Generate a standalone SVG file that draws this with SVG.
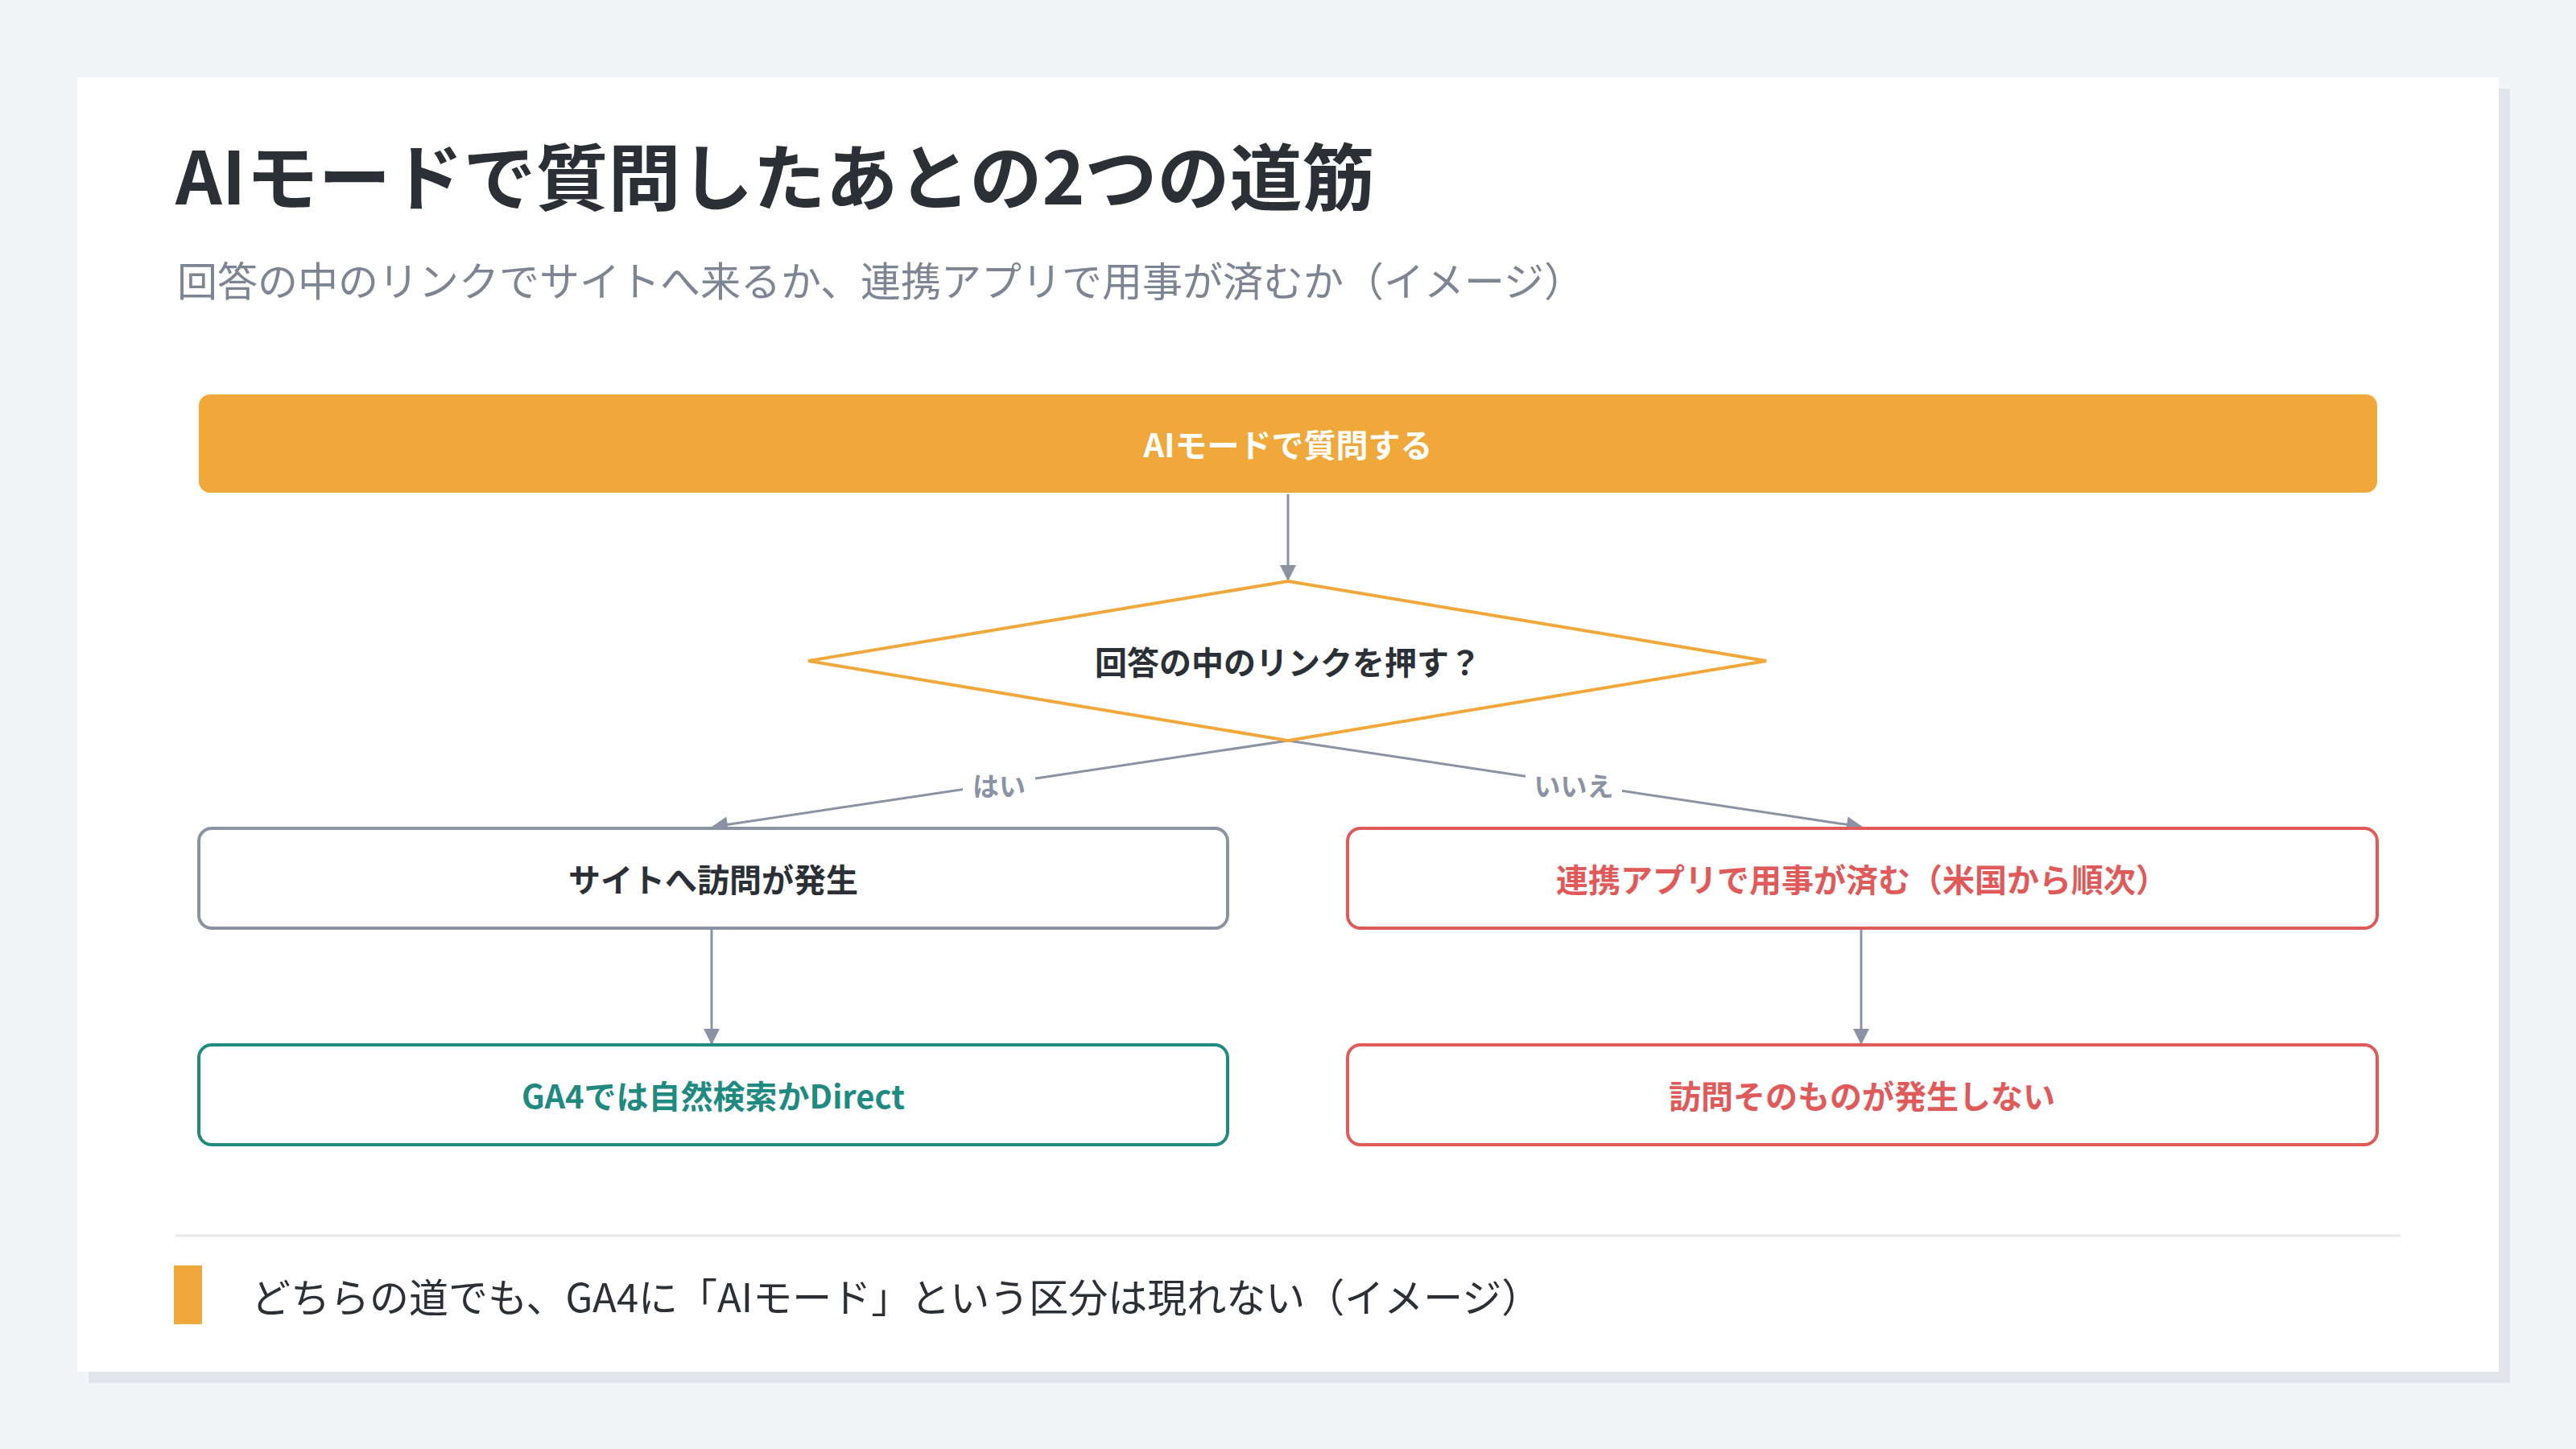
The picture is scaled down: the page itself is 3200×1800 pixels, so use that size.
<svg xmlns="http://www.w3.org/2000/svg" width="3200" height="1800" viewBox="0 0 3200 1800">
<defs>
<marker id="ah" viewBox="0 0 10 10" refX="9" refY="5" markerWidth="24" markerHeight="20" markerUnits="userSpaceOnUse" orient="auto"><path d="M0,0 L10,5 L0,10 z" fill="#8A93A3"/></marker>
<style>
text{font-family:"Noto Sans CJK JP","Noto Sans",sans-serif}
.lbl{font-size:40px;font-weight:700;text-anchor:middle;dominant-baseline:central}
.box{fill:#fff;stroke-width:4}
.con{stroke:#8A93A3;stroke-width:3;fill:none;marker-end:url(#ah)}
.el{font-size:33px;font-weight:700;fill:#8A93A3;text-anchor:middle;dominant-baseline:central}
</style>
</defs>
<rect width="3200" height="1800" fill="#F3F4F8"/>
<rect x="110" y="110" width="3008" height="1608" fill="#E2E4EA"/>
<rect x="96" y="96" width="3008" height="1608" fill="#fff"/>
<text x="218" y="254" font-size="90" font-weight="700" fill="#2B2F36">AIモードで質問したあとの2つの道筋</text>
<text x="220" y="368" font-size="50" fill="#7D8594">回答の中のリンクでサイトへ来るか、連携アプリで用事が済むか（イメージ）</text>
<g id="connectors">
<line class="con" x1="1600" y1="614" x2="1600" y2="720"/>
<line class="con" x1="1600" y1="920" x2="886" y2="1027"/>
<line class="con" x1="1600" y1="920" x2="2312" y2="1027"/>
<line class="con" x1="884" y1="1155" x2="884" y2="1296"/>
<line class="con" x1="2312" y1="1155" x2="2312" y2="1296"/>
<rect x="1196" y="950" width="90" height="52" fill="#fff"/>
<text class="el" x="1241" y="975">はい</text>
<rect x="1895" y="950" width="120" height="52" fill="#fff"/>
<text class="el" x="1955" y="975">いいえ</text>
</g>
<g id="n-start"><rect x="247" y="490" width="2706" height="122" rx="14" fill="#F0A83A"/><text class="lbl" x="1600" y="551" fill="#fff" font-size="54">AIモードで質問する</text></g>
<g id="n-decision"><polygon points="1600,722 2194,821 1600,920 1004,821" fill="#fff" stroke="#F0A83A" stroke-width="4"/><text class="lbl" x="1600" y="821" fill="#2B2F36" font-size="42">回答の中のリンクを押す？</text></g>
<g id="n-visit"><rect class="box" x="247" y="1029" width="1278" height="124" rx="16" stroke="#8A93A3"/><text class="lbl" x="886" y="1091" fill="#2B2F36" font-size="42">サイトへ訪問が発生</text></g>
<g id="n-app"><rect class="box" x="1674" y="1029" width="1279" height="124" rx="16" stroke="#E05A5A"/><text class="lbl" x="2313" y="1091" fill="#E05A5A" font-size="42">連携アプリで用事が済む（米国から順次）</text></g>
<g id="n-ga4"><rect class="box" x="247" y="1298" width="1278" height="124" rx="16" stroke="#1F8A80"/><text class="lbl" x="886" y="1360" fill="#1F8A80" font-size="47">GA4では自然検索かDirect</text></g>
<g id="n-none"><rect class="box" x="1674" y="1298" width="1279" height="124" rx="16" stroke="#E05A5A"/><text class="lbl" x="2313" y="1360" fill="#E05A5A" font-size="42">訪問そのものが発生しない</text></g>
<line x1="218" y1="1535" x2="2982" y2="1535" stroke="#E6E8EC" stroke-width="3"/>
<rect x="216" y="1572" width="35" height="73" fill="#F0A83A"/>
<text x="312" y="1608" font-size="49" fill="#2B2F36" dominant-baseline="central">どちらの道でも、GA4に「AIモード」という区分は現れない（イメージ）</text>
</svg>
